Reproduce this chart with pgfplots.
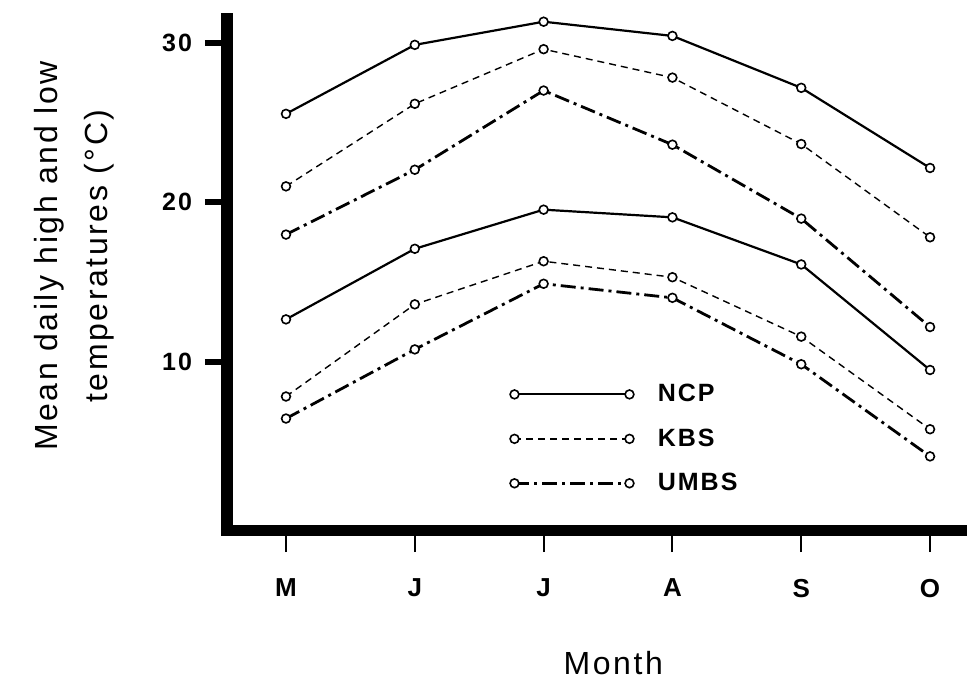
\documentclass[border=0pt]{standalone}
\usepackage{fontspec}
\setmainfont{Liberation Sans}
\newfontfamily\lsp[LetterSpace=8]{Liberation Sans}
\usepackage{pgfplots}
\pgfplotsset{compat=1.18}
\pgfplotsset{
  mk/.style={mark=*, mark size=2.2pt, mark options={solid, fill=white, draw=black, line width=0.8pt}},
  ncp/.style={black, line width=1.1pt, solid, mk},
  kbs/.style={black, line width=0.7pt, dash pattern=on 3.5pt off 2.5pt, mk},
  umbs/.style={black, line width=1.4pt, dash pattern=on 7.5pt off 2.5pt on 1.5pt off 2.5pt, mk},
}
\begin{document}
\begin{tikzpicture}
\begin{axis}[
  at={(0pt,0pt)}, anchor=south west,
  scale only axis, width=370pt, height=255.5pt,
  xmin=-0.458, xmax=5.287, ymin=-0.52, ymax=31.48,
  axis x line=bottom, axis y line=left,
  x axis line style={-, line width=5.5pt, line cap=rect},
  y axis line style={-, line width=6pt, line cap=rect},
  xtick={0,1,2,3,4,5}, xticklabels={M,J,J,A,S,O},
  ytick={10,20,30},
  tick align=outside, major tick length=11pt,
  x tick style={line width=1pt, black},
  y tick style={line width=3pt, black},
  /pgf/number format/assume math mode=true,
  xticklabel style={font=\lsp\bfseries\fontsize{13}{15}\selectfont, yshift=-10pt},
  yticklabel style={font=\lsp\bfseries\fontsize{12.5}{15}\selectfont, xshift=-3pt},
  xlabel={Month},
  xlabel style={at={(axis description cs:0.522,-0.282)}, anchor=base, font=\lsp\fontsize{16}{20}\selectfont},
  ylabel={Mean daily high and low\\temperatures (°C)},
  ylabel style={at={(axis description cs:-0.207,0.536)}, anchor=center, align=center, font=\lsp\fontsize{16}{25}\selectfont},
  legend style={at={(axis description cs:0.382,0.294)}, anchor=north west, draw=none, fill=none,
    font=\lsp\bfseries\fontsize{12.5}{15}\selectfont, row sep=8pt, inner sep=0pt,
    /tikz/every odd column/.append style={column sep=10pt}},
  legend cell align=left,
  legend image code/.code={\draw[#1] plot coordinates {(0pt,0pt) (57.5pt,0pt)};},
]
\addplot[ncp] coordinates {(0,25.54)(1,29.86)(2,31.31)(3,30.42)(4,27.17)(5,22.15)};
\addlegendentry{NCP}
\addplot[kbs] coordinates {(0,21.0)(1,26.17)(2,29.59)(3,27.81)(4,23.65)(5,17.81)};
\addlegendentry{KBS}
\addplot[umbs] coordinates {(0,17.98)(1,22.04)(2,27.0)(3,23.61)(4,18.98)(5,12.19)};
\addlegendentry{UMBS}
\addplot[ncp, forget plot] coordinates {(0,12.67)(1,17.09)(2,19.54)(3,19.06)(4,16.11)(5,9.5)};
\addplot[kbs, forget plot] coordinates {(0,7.84)(1,13.61)(2,16.31)(3,15.31)(4,11.59)(5,5.79)};
\addplot[umbs, forget plot] coordinates {(0,6.46)(1,10.79)(2,14.9)(3,14.02)(4,9.86)(5,4.09)};
\end{axis}
\pgfresetboundingbox
\path (-113.5pt,-74.5pt) rectangle (370pt,265pt);
\end{tikzpicture}
\end{document}
